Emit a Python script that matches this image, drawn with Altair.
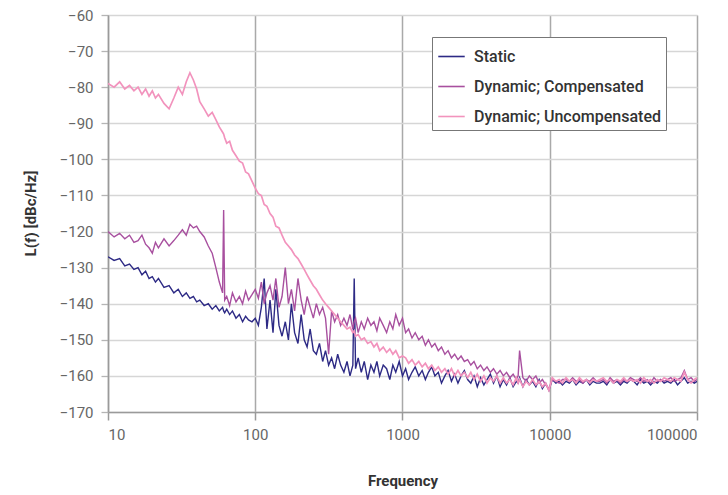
import altair as alt
import pandas as pd

# Frequencies (Hz), shared by the three measured traces
freq = [
    10, 11, 12, 13, 14, 15, 16, 17, 18, 19,
    20, 21, 22, 24, 26, 28, 30, 32, 34, 36,
    38, 40, 42, 45, 48, 51, 54, 57, 60, 61,
    62, 64, 67, 70, 74, 78, 82, 86, 90, 95,
    100, 105, 110, 115, 120, 126, 132, 138, 145, 152,
    160, 168, 176, 185, 195, 205, 215, 225, 236, 248,
    260, 273, 287, 300, 315, 330, 346, 363, 380, 400,
    420, 440, 460, 470, 480, 500, 525, 550, 580, 610,
    640, 670, 700, 740, 780, 820, 860, 900, 950, 1000,
    1050, 1100, 1160, 1220, 1290, 1360, 1430, 1500, 1580, 1660,
    1750, 1840, 1940, 2040, 2150, 2260, 2380, 2500, 2630, 2770,
    2910, 3060, 3220, 3390, 3570, 3750, 3950, 4150, 4370, 4600,
    4840, 5090, 5360, 5640, 5930, 6100, 6240, 6570, 6910, 7270,
    7650, 8050, 8470, 8910, 9380, 9870, 10400, 11000, 11600, 12200,
    12900, 13600, 14300, 15100, 15900, 16800, 17700, 18700, 19700, 20800,
    21900, 23100, 24400, 25700, 27100, 28600, 30200, 31800, 33500, 35300,
    37200, 39200, 41300, 43500, 45900, 48400, 51000, 53800, 56700, 59800,
    63000, 66400, 70000, 73800, 77800, 82000, 86400, 91100, 96000, 100000,
]

static = [
    -127, -128, -127.5, -129.5, -129, -130.5, -130, -132, -131, -133,
    -132.5, -134, -133, -135.5, -135, -137, -136, -138, -137, -138.5,
    -138, -139.5, -139, -140.5, -140, -141.5, -140.5, -142, -141, -142,
    -142.5, -141.5, -143, -142, -144, -143, -145, -143.5, -144.5, -145,
    -144, -146, -141, -133, -147, -139, -148, -136, -146, -149,
    -145, -150, -140, -148, -151, -143, -150, -152, -147, -153,
    -154, -151, -156, -153, -157, -155, -158, -154, -157, -159,
    -156, -160, -157, -133, -158, -155, -159, -156, -161, -157,
    -159, -156, -160, -157, -158, -161, -157, -159, -156, -160,
    -158, -161, -159, -157.5, -160, -158.5, -161, -159, -157.5, -160,
    -159, -162, -160, -158.5, -161.5, -159.5, -162, -160, -158.5, -161,
    -162, -160, -163, -160.5, -162.5, -161, -159.5, -162, -160, -163,
    -161, -162.5, -160.5, -163, -161.5, -162, -160.5, -163, -161, -162.5,
    -161.5, -163, -161, -163.5, -162, -164, -161, -162, -161.5, -162.5,
    -161.5, -162, -161, -162.5, -161.5, -162, -161, -162.5, -161.5, -162,
    -162, -161.5, -162.5, -161, -162, -161.5, -162.5, -161.5, -162, -161,
    -161.5, -162.5, -161, -162, -161.5, -162.5, -161.5, -162, -161, -162,
    -161.5, -162, -161, -162.5, -161.5, -160.5, -162, -161.5, -162, -161.5,
]

compensated = [
    -120, -121.5, -120.5, -122, -121, -123, -122.5, -121, -123.5, -124.5,
    -126, -123, -124.5, -122, -124, -122.5, -121, -119.5, -121, -118,
    -119, -118.5, -120, -121.5, -124, -126, -130, -134, -137, -114,
    -139, -138, -140.5, -137, -139.5, -138, -140, -136.5, -139, -137.5,
    -136, -138.5, -134, -140, -137, -135, -139, -133, -141, -138,
    -130, -140, -136, -142, -133, -139, -143, -138, -141, -144,
    -140, -143, -141, -144, -154, -142, -145, -143, -146, -144,
    -146, -143, -147, -145, -144, -148, -145, -147, -144, -146,
    -145, -147.5, -144, -146, -148, -145, -147, -143, -146, -144,
    -148, -147, -149.5, -148, -150, -149, -151.5, -150, -152, -151,
    -153, -152, -154, -153, -155, -154, -155.5, -154.5, -156, -155.5,
    -157, -156, -158, -157, -158.5, -157.5, -159, -158, -159.5, -158.5,
    -160, -159, -160.5, -159.5, -161, -160, -153, -160.5, -161.5, -160,
    -161, -160, -162, -161, -162.5, -163.5, -161, -161.5, -162, -161,
    -161, -161.5, -160.5, -161.5, -161, -162, -161, -161.5, -160.5, -161.5,
    -161.5, -161, -162, -160.5, -161.5, -161, -162, -161, -161.5, -160.5,
    -161, -161.5, -160.5, -161.5, -161, -162, -160.5, -161.5, -161, -161.5,
    -161, -160.5, -161.5, -161, -160.5, -158.5, -161, -160.5, -161.5, -161,
]

uncompensated = [
    -79, -80, -78.5, -80.5, -79.5, -81, -80, -82, -80.5, -82.5,
    -81, -83, -82, -84.5, -86, -83, -80, -82, -78.5, -76,
    -78, -80.5, -84, -86, -88, -87, -89, -91, -92.5, -93,
    -94, -95.5, -95, -97.5, -99, -100.5, -101, -103.5, -104, -106,
    -108, -109.5, -110, -112.5, -113, -115, -116, -118.5, -119, -121,
    -123, -124, -125, -126.5, -127.5, -129, -130.5, -132, -133.5, -135,
    -136, -137.5, -139, -140, -141, -142, -143, -144, -145, -146,
    -147, -146.5, -148, -147.5, -149, -148.5, -150, -149.5, -151, -150.5,
    -152, -151, -153, -152, -153.5, -152.5, -154, -153, -155, -154.5,
    -155, -156.5, -155.5, -157, -156, -157.5, -156.5, -158, -157, -158.5,
    -157.5, -159, -158, -159.5, -158, -160, -158.5, -160, -159, -160.5,
    -159, -161, -159.5, -161.5, -160, -162, -160.5, -161.5, -160, -162,
    -160.5, -162, -161, -162.5, -160.5, -162, -161, -163, -161.5, -162.5,
    -161, -162.5, -161.5, -163, -162, -164, -160.5, -161.5, -161, -162,
    -160.5, -161.5, -161, -162, -160.5, -161.5, -161, -162, -161, -161.5,
    -161, -160.5, -161.5, -161, -162, -161, -161.5, -160.5, -161.5, -161,
    -161.5, -161, -162, -160.5, -161.5, -161, -162, -161, -161.5, -160.5,
    -161, -161.5, -160.5, -161, -161.5, -159, -161, -162, -161, -160.5,
]

series_names = ["Static", "Dynamic; Compensated", "Dynamic; Uncompensated"]
series_colors = ["#2d2a85", "#a8509f", "#f293bd"]
x_ticks = [10, 100, 1000, 10000, 100000]
y_ticks = [-170, -160, -150, -140, -130, -120, -110, -100, -90, -80, -70, -60]

rows = []
for name, vals in zip(series_names, [static, compensated, uncompensated]):
    for f, v in zip(freq, vals):
        rows.append({"Frequency": f, "L": v, "Series": name})
df = pd.DataFrame(rows)

FONT = "Roboto"

x_enc = alt.X(
    "Frequency:Q",
    scale=alt.Scale(type="log", domain=[10, 100000], nice=False),
    axis=alt.Axis(
        values=x_ticks, format="d", title="Frequency",
        grid=True, gridColor="#a9a9a9", gridWidth=1.5,
        domainColor="#9a9a9a", domainWidth=1.5,
        tickColor="#9a9a9a", tickSize=8, tickWidth=1.5,
        labelFont=FONT, labelFontSize=15, labelColor="#666666", labelPadding=7,
        titleFont=FONT, titleFontSize=15, titleFontWeight="bold", titleColor="#333333",
        titleY=68, titleBaseline="middle",
    ),
)
y_enc = alt.Y(
    "L:Q",
    scale=alt.Scale(domain=[-170, -60], nice=False, zero=False),
    axis=alt.Axis(
        values=y_ticks, title="L(f) [dBc/Hz]",
        grid=True, gridColor="#d6d6d6", gridWidth=1.3,
        domainColor="#9a9a9a", domainWidth=1.5,
        tickColor="#b5b5b5", tickSize=7, tickWidth=1.3,
        labelFont=FONT, labelFontSize=15, labelColor="#666666", labelPadding=8,
        titleFont=FONT, titleFontSize=15, titleFontWeight="bold", titleColor="#333333",
        titleX=-78, titleY=198, titleBaseline="middle", titleAngle=-90,
    ),
)
color_enc = alt.Color(
    "Series:N",
    scale=alt.Scale(domain=series_names, range=series_colors),
    legend=alt.Legend(
        title=None, orient="none", legendX=324, legendY=22,
        symbolType="stroke", symbolSize=700, symbolStrokeWidth=1.6,
        labelFont=FONT, labelFontSize=16, labelFontWeight=500, labelColor="#333333",
        labelLimit=400, labelOffset=8, rowPadding=7,
        padding=5, strokeColor="#777777", fillColor="white",
    ),
)

widths = [1.4, 1.4, 1.7]
layers = []
for name, w in zip(series_names, widths):
    layers.append(
        alt.Chart(df)
        .transform_filter(alt.datum.Series == name)
        .mark_line(strokeWidth=w, clip=True)
        .encode(x=x_enc, y=y_enc, color=color_enc)
    )

chart = (
    alt.layer(*layers)
    .properties(
        width=589, height=397,
        autosize=alt.AutoSizeParams(type="none"),
        padding={"left": 100, "top": 7, "right": 23, "bottom": 80},
    )
    .configure_view(stroke=None)
    .configure(background="white")
)

chart.save("out.html", embed_options={"renderer": "svg", "actions": False})
